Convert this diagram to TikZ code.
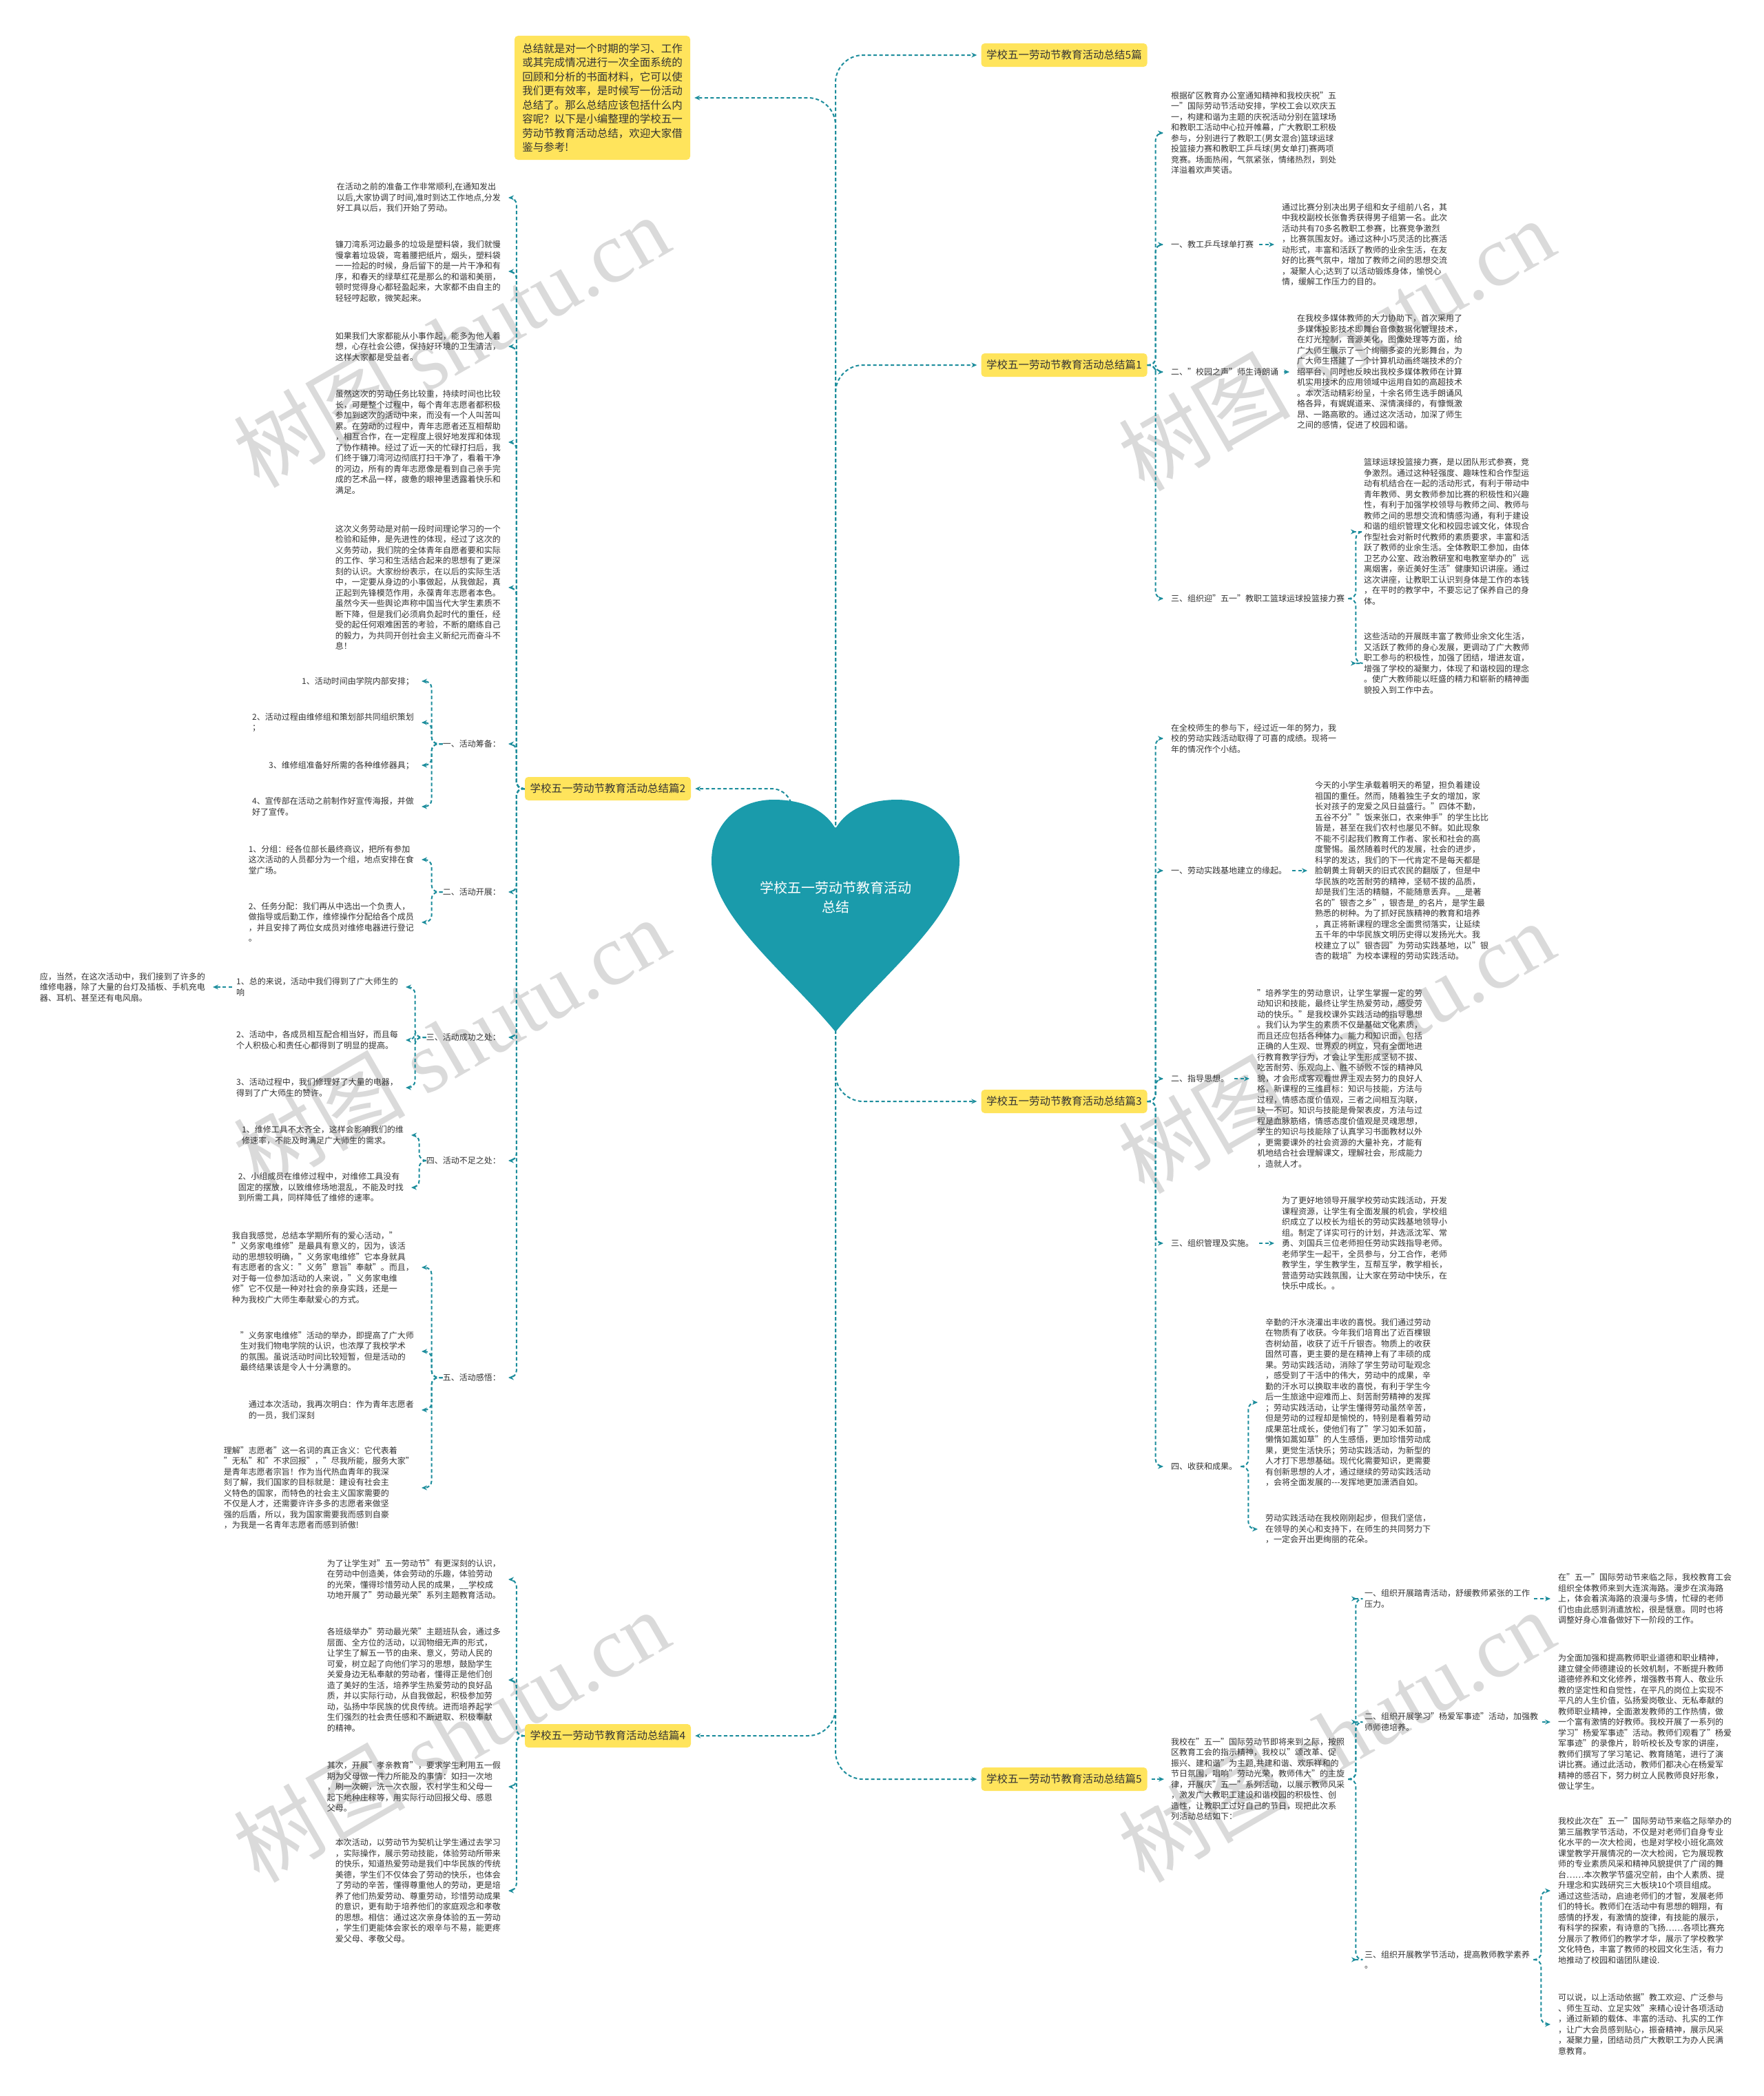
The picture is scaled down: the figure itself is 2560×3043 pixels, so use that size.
\documentclass[tikz,border=0pt]{standalone}
\usepackage{fontspec}
\setmainfont{Noto Sans CJK SC}
\newfontfamily\wmserif{Liberation Serif}
\usetikzlibrary{arrows.meta}
\definecolor{lc}{HTML}{1C8D9C}
\definecolor{hc}{HTML}{1A9BAB}
\definecolor{yc}{HTML}{FFE45C}
\definecolor{tc}{HTML}{333333}
\definecolor{wmc}{HTML}{DADADA}
\begin{document}
\begin{tikzpicture}[x=1pt,y=-1pt,
  txt/.style={font=\fontsize{12}{15.5}\selectfont, text=tc, inner sep=0pt, align=left},
  ybox/.style={fill=yc, rounded corners=5pt, text=tc, font=\fontsize{15.5}{20.5}\selectfont, minimum width=241pt, minimum height=34pt, inner sep=0pt},
  conn/.style={draw=lc, line width=2pt, dash pattern=on 5pt off 3.5pt, rounded corners=10pt, -{Stealth[length=8pt,width=7pt]}, shorten >=11pt},
  wm/.style={text=wmc, font=\fontsize{125}{130}\selectfont, rotate=30, inner sep=0pt},
]
\fill[white] (0,0) rectangle (2560,3043);
\useasboundingbox (0,0) rectangle (2560,3043);

% watermarks
\node[wm] (wm1) at (655,495) {树图 {\wmserif shutu.cn}};
\node[wm] (wm2) at (655,1515) {树图 {\wmserif shutu.cn}};
\node[wm] (wm3) at (655,2520) {树图 {\wmserif shutu.cn}};
\node[wm] (wm4) at (1940,500) {树图 {\wmserif shutu.cn}};
\node[wm] (wm5) at (1940,1520) {树图 {\wmserif shutu.cn}};
\node[wm] (wm6) at (1940,2520) {树图 {\wmserif shutu.cn}};

% ---------- main boxes ----------
\node[ybox, minimum width=255pt, minimum height=180pt, align=left] (intro) at (874.5,142) {总结就是对一个时期的学习、工作\\或其完成情况进行一次全面系统的\\回顾和分析的书面材料，它可以使\\我们更有效率，是时候写一份活动\\总结了。那么总结应该包括什么内\\容呢？以下是小编整理的学校五一\\劳动节教育活动总结，欢迎大家借\\鉴与参考!};
\node[ybox] (b5t) at (1545,80) {学校五一劳动节教育活动总结5篇};
\node[ybox] (b1) at (1545,530) {学校五一劳动节教育活动总结篇1};
\node[ybox] (b2) at (882.5,1145) {学校五一劳动节教育活动总结篇2};
\node[ybox] (b3) at (1545,1599) {学校五一劳动节教育活动总结篇3};
\node[ybox] (b4) at (882.5,2520) {学校五一劳动节教育活动总结篇4};
\node[ybox] (b5) at (1545,2583) {学校五一劳动节教育活动总结篇5};

% ---------- 篇2 ----------
\node[txt, anchor=east] (L2a) at (727,287) {在活动之前的准备工作非常顺利,在通知发出\\以后,大家协调了时间,准时到达工作地点,分发\\好工具以后，我们开始了劳动。};
\node[txt, anchor=east] (L2b) at (727,394) {镰刀湾系河边最多的垃圾是塑料袋，我们就慢\\慢拿着垃圾袋，弯着腰把纸片，烟头，塑料袋\\一一捡起的时候，身后留下的是一片干净和有\\序，和春天的绿草红花是那么的和谐和美丽，\\顿时觉得身心都轻盈起来，大家都不由自主的\\轻轻哼起歌，微笑起来。};
\node[txt, anchor=east] (L2c) at (727,503) {如果我们大家都能从小事作起，能多为他人着\\想，心存社会公德，保持好环境的卫生清洁，\\这样大家都是受益者。};
\node[txt, anchor=east] (L2d) at (727,642) {虽然这次的劳动任务比较重，持续时间也比较\\长，可是整个过程中，每个青年志愿者都积极\\参加到这次的活动中来，而没有一个人叫苦叫\\累。在劳动的过程中，青年志愿者还互相帮助\\，相互合作，在一定程度上很好地发挥和体现\\了协作精神。经过了近一天的忙碌打扫后，我\\们终于镰刀湾河边彻底打扫干净了，看着干净\\的河边，所有的青年志愿像是看到自己亲手完\\成的艺术品一样，疲惫的眼神里透露着快乐和\\满足。};
\node[txt, anchor=east] (L2e) at (727,853) {这次义务劳动是对前一段时间理论学习的一个\\检验和延伸，是先进性的体现，经过了这次的\\义务劳动，我们院的全体青年自愿者要和实际\\的工作、学习和生活结合起来的思想有了更深\\刻的认识。大家纷纷表示，在以后的实际生活\\中，一定要从身边的小事做起，从我做起，真\\正起到先锋模范作用，永葆青年志愿者本色。\\虽然今天一些舆论声称中国当代大学生素质不\\断下降，但是我们必须肩负起时代的重任，经\\受的起任何艰难困苦的考验，不断的磨练自己\\的毅力，为共同开创社会主义新纪元而奋斗不\\息！};
\node[txt, anchor=east] (L2f) at (727,1080) {一、活动筹备：};
\node[txt, anchor=east] (L2f1) at (601,989) {1、活动时间由学院内部安排；};
\node[txt, anchor=east] (L2f2) at (601,1049) {2、活动过程由维修组和策划部共同组织策划\\；};
\node[txt, anchor=east] (L2f3) at (601,1111) {3、维修组准备好所需的各种维修器具；};
\node[txt, anchor=east] (L2f4) at (601,1171) {4、宣传部在活动之前制作好宣传海报，并做\\好了宣传。};
\node[txt, anchor=east] (L2g) at (727,1295) {二、活动开展：};
\node[txt, anchor=east] (L2g1) at (601,1248) {1、分组：经各位部长最终商议，把所有参加\\这次活动的人员都分为一个组，地点安排在食\\堂广场。};
\node[txt, anchor=east] (L2g2) at (601,1339) {2、任务分配：我们再从中选出一个负责人，\\做指导或后勤工作，维修操作分配给各个成员\\，并且安排了两位女成员对维修电器进行登记\\。};
\node[txt, anchor=east] (L2h) at (727,1506) {三、活动成功之处：};
\node[txt, anchor=east] (L2h1) at (578,1433) {1、总的来说，活动中我们得到了广大师生的\\响};
\node[txt, anchor=east] (L2h1a) at (298,1433) {应，当然，在这次活动中，我们接到了许多的\\维修电器，除了大量的台灯及插板、手机充电\\器、耳机、甚至还有电风扇。};
\node[txt, anchor=east] (L2h2) at (578,1510) {2、活动中，各成员相互配合相当好，而且每\\个人积极心和责任心都得到了明显的提高。};
\node[txt, anchor=east] (L2h3) at (578,1579) {3、活动过程中，我们修理好了大量的电器，\\得到了广大师生的赞许。};
\node[txt, anchor=east] (L2i) at (727,1685) {四、活动不足之处：};
\node[txt, anchor=east] (L2i1) at (586,1648) {1、维修工具不太齐全，这样会影响我们的维\\修速率，不能及时满足广大师生的需求。};
\node[txt, anchor=east] (L2i2) at (586,1724) {2、小组成员在维修过程中，对维修工具没有\\固定的摆放，以致维修场地混乱，不能及时找\\到所需工具，同样降低了维修的速率。};
\node[txt, anchor=east] (L2j) at (727,2000) {五、活动感悟：};
\node[txt, anchor=east] (L2j1) at (601,1840) {我自我感觉，总结本学期所有的爱心活动，"\\"义务家电维修"是最具有意义的，因为，该活\\动的思想较明确，"义务家电维修"它本身就具\\有志愿者的含义："义务"意旨"奉献"。而且，\\对于每一位参加活动的人来说，"义务家电维\\修"它不仅是一种对社会的亲身实践，还是一\\种为我校广大师生奉献爱心的方式。};
\node[txt, anchor=east] (L2j2) at (601,1962) {"义务家电维修"活动的举办，即提高了广大师\\生对我们物电学院的认识，也浓厚了我校学术\\的氛围。虽说活动时间比较短暂，但是活动的\\最终结果该是令人十分满意的。};
\node[txt, anchor=east] (L2j3) at (601,2047) {通过本次活动，我再次明白：作为青年志愿者\\的一员，我们深刻};
\node[txt, anchor=east] (L2j4) at (601,2160) {理解"志愿者"这一名词的真正含义：它代表着\\"无私"和"不求回报"，"尽我所能，服务大家"\\是青年志愿者宗旨！作为当代热血青年的我深\\刻了解，我们国家的目标就是：建设有社会主\\义特色的国家，而特色的社会主义国家需要的\\不仅是人才，还需要许许多多的志愿者来做坚\\强的后盾，所以，我为国家需要我而感到自豪\\，为我是一名青年志愿者而感到骄傲!};

% ---------- 篇4 ----------
\node[txt, anchor=east] (L4a) at (727,2293) {为了让学生对"五一劳动节"有更深刻的认识，\\在劳动中创造美，体会劳动的乐趣，体验劳动\\的光荣，懂得珍惜劳动人民的成果，\_\_学校成\\功地开展了"劳动最光荣"系列主题教育活动。};
\node[txt, anchor=east] (L4b) at (727,2439) {各班级举办"劳动最光荣"主题班队会，通过多\\层面、全方位的活动，以润物细无声的形式，\\让学生了解五一节的由来、意义，劳动人民的\\可爱，树立起了向他们学习的思想，鼓励学生\\关爱身边无私奉献的劳动者，懂得正是他们创\\造了美好的生活，培养学生热爱劳动的良好品\\质，并以实际行动，从自我做起，积极参加劳\\动，弘扬中华民族的优良传统。进而培养起学\\生们强烈的社会责任感和不断进取、积极奉献\\的精神。};
\node[txt, anchor=east] (L4c) at (727,2594) {其次，开展"孝亲教育"，要求学生利用五一假\\期为父母做一件力所能及的事情：如扫一次地\\，刷一次碗，洗一次衣服，农村学生和父母一\\起下地种庄稼等，用实际行动回报父母、感恩\\父母。};
\node[txt, anchor=east] (L4d) at (727,2745) {本次活动，以劳动节为契机让学生通过去学习\\，实际操作，展示劳动技能，体验劳动所带来\\的快乐，知道热爱劳动是我们中华民族的传统\\美德，学生们不仅体会了劳动的快乐，也体会\\了劳动的辛苦，懂得尊重他人的劳动，更是培\\养了他们热爱劳动、尊重劳动，珍惜劳动成果\\的意识，更有助于培养他们的家庭观念和孝敬\\的思想。相信：通过这次亲身体验的五一劳动\\，学生们更能体会家长的艰辛与不易，能更疼\\爱父母、孝敬父母。};

% ---------- 篇1 ----------
\node[txt, anchor=west] (R1a) at (1700,193) {根据矿区教育办公室通知精神和我校庆祝"五\\一"国际劳动节活动安排，学校工会以欢庆五\\一，构建和谐为主题的庆祝活动分别在篮球场\\和教职工活动中心拉开帷幕，广大教职工积极\\参与，分别进行了教职工(男女混合)篮球运球\\投篮接力赛和教职工乒乓球(男女单打)赛两项\\竞赛。场面热闹，气氛紧张，情绪热烈，到处\\洋溢着欢声笑语。};
\node[txt, anchor=west] (R1b) at (1700,355) {一、教工乒乓球单打赛};
\node[txt, anchor=west] (R1b1) at (1861,355) {通过比赛分别决出男子组和女子组前八名，其\\中我校副校长张鲁秀获得男子组第一名。此次\\活动共有70多名教职工参赛，比赛竞争激烈\\，比赛氛围友好。通过这种小巧灵活的比赛活\\动形式，丰富和活跃了教师的业余生活，在友\\好的比赛气氛中，增加了教师之间的思想交流\\，凝聚人心;达到了以活动锻炼身体，愉悦心\\情，缓解工作压力的目的。};
\node[txt, anchor=west] (R1c) at (1700,540) {二、"校园之声"师生诗朗诵};
\node[txt, anchor=west] (R1c1) at (1883,540) {在我校多媒体教师的大力协助下，首次采用了\\多媒体投影技术即舞台音像数据化管理技术，\\在灯光控制，音源美化，图像处理等方面，给\\广大师生展示了一个绚丽多姿的光影舞台，为\\广大师生搭建了一个计算机动画终端技术的介\\绍平台，同时也反映出我校多媒体教师在计算\\机实用技术的应用领域中运用自如的高超技术\\。本次活动精彩纷呈，十余名师生选手朗诵风\\格各异，有娓娓道来、深情演绎的，有慷慨激\\昂、一路高歌的。通过这次活动，加深了师生\\之间的感情，促进了校园和谐。};
\node[txt, anchor=west] (R1d) at (1700,869) {三、组织迎"五一"教职工篮球运球投篮接力赛};
\node[txt, anchor=west] (R1d1) at (1980,772) {篮球运球投篮接力赛，是以团队形式参赛，竞\\争激烈。通过这种轻强度、趣味性和合作型运\\动有机结合在一起的活动形式，有利于带动中\\青年教师、男女教师参加比赛的积极性和兴趣\\性，有利于加强学校领导与教师之间、教师与\\教师之间的思想交流和情感沟通，有利于建设\\和谐的组织管理文化和校园忠诚文化，体现合\\作型社会对新时代教师的素质要求，丰富和活\\跃了教师的业余生活。全体教职工参加，由体\\卫艺办公室、政治教研室和电教室举办的"远\\离烟害，亲近美好生活"健康知识讲座。通过\\这次讲座，让教职工认识到身体是工作的本钱\\，在平时的教学中，不要忘记了保养自己的身\\体。};
\node[txt, anchor=west] (R1d2) at (1980,963) {这些活动的开展既丰富了教师业余文化生活，\\又活跃了教师的身心发展，更调动了广大教师\\职工参与的积极性，加强了团结，增进友谊，\\增强了学校的凝聚力，体现了和谐校园的理念\\。使广大教师能以旺盛的精力和崭新的精神面\\貌投入到工作中去。};

% ---------- 篇3 ----------
\node[txt, anchor=west] (R3a) at (1700,1072) {在全校师生的参与下，经过近一年的努力，我\\校的劳动实践活动取得了可喜的成绩。现将一\\年的情况作个小结。};
\node[txt, anchor=west] (R3b) at (1700,1264) {一、劳动实践基地建立的缘起。};
\node[txt, anchor=west] (R3b1) at (1909,1264) {今天的小学生承载着明天的希望，担负着建设\\祖国的重任。然而，随着独生子女的增加，家\\长对孩子的宠爱之风日益盛行。"四体不勤，\\五谷不分""饭来张口，衣来伸手"的学生比比\\皆是，甚至在我们农村也屡见不鲜。如此现象\\不能不引起我们教育工作者、家长和社会的高\\度警惕。虽然随着时代的发展，社会的进步，\\科学的发达，我们的下一代肯定不是每天都是\\脸朝黄土背朝天的旧式农民的翻版了，但是中\\华民族的吃苦耐劳的精神，坚韧不拔的品质，\\却是我们生活的精髓，不能随意丢弃。\_\_是著\\名的"银杏之乡"，银杏是\_的名片，是学生最\\熟悉的树种。为了抓好民族精神的教育和培养\\，真正将新课程的理念全面贯彻落实，让延续\\五千年的中华民族文明历史得以发扬光大。我\\校建立了以"银杏园"为劳动实践基地，以"银\\杏的栽培"为校本课程的劳动实践活动。};
\node[txt, anchor=west] (R3c) at (1700,1566) {二、指导思想。};
\node[txt, anchor=west] (R3c1) at (1825,1566) {"培养学生的劳动意识，让学生掌握一定的劳\\动知识和技能，最终让学生热爱劳动，感受劳\\动的快乐。"是我校课外实践活动的指导思想\\。我们认为学生的素质不仅是基础文化素质，\\而且还应包括各种体力、能力和知识面，包括\\正确的人生观、世界观的树立，只有全面地进\\行教育教学行为，才会让学生形成坚韧不拔、\\吃苦耐劳、乐观向上、胜不骄败不馁的精神风\\貌，才会形成客观看世界主观去努力的良好人\\格。新课程的三维目标：知识与技能，方法与\\过程，情感态度价值观，三者之间相互沟联，\\缺一不可。知识与技能是骨架表皮，方法与过\\程是血脉筋络，情感态度价值观是灵魂思想，\\学生的知识与技能除了认真学习书面教材以外\\，更需要课外的社会资源的大量补充，才能有\\机地结合社会理解课文，理解社会，形成能力\\，造就人才。};
\node[txt, anchor=west] (R3d) at (1700,1805) {三、组织管理及实施。};
\node[txt, anchor=west] (R3d1) at (1861,1805) {为了更好地领导开展学校劳动实践活动，开发\\课程资源，让学生有全面发展的机会，学校组\\织成立了以校长为组长的劳动实践基地领导小\\组。制定了详实可行的计划，并选派沈军、常\\勇、刘国兵三位老师担任劳动实践指导老师。\\老师学生一起干，全员参与，分工合作，老师\\教学生，学生教学生，互帮互学，教学相长，\\营造劳动实践氛围，让大家在劳动中快乐，在\\快乐中成长。。};
\node[txt, anchor=west] (R3e) at (1700,2129) {四、收获和成果。};
\node[txt, anchor=west] (R3e1) at (1837,2036) {辛勤的汗水浇灌出丰收的喜悦。我们通过劳动\\在物质有了收获。今年我们培育出了近百棵银\\杏树幼苗，收获了近千斤银杏。物质上的收获\\固然可喜，更主要的是在精神上有了丰硕的成\\果。劳动实践活动，消除了学生劳动可耻观念\\，感受到了干活中的伟大，劳动中的成果，辛\\勤的汗水可以换取丰收的喜悦，有利于学生今\\后一生旅途中迎难而上、刻苦耐劳精神的发挥\\；劳动实践活动，让学生懂得劳动虽然辛苦，\\但是劳动的过程却是愉悦的，特别是看着劳动\\成果茁壮成长，使他们有了"学习如禾如苗，\\懒惰如蒿如草"的人生感悟，更加珍惜劳动成\\果，更觉生活快乐；劳动实践活动，为新型的\\人才打下思想基础。现代化需要知识，更需要\\有创新思想的人才，通过继续的劳动实践活动\\，会将全面发展的-{}-{}-发挥地更加潇洒自如。};
\node[txt, anchor=west] (R3e2) at (1837,2220) {劳动实践活动在我校刚刚起步，但我们坚信，\\在领导的关心和支持下，在师生的共同努力下\\，一定会开出更绚丽的花朵。};

% ---------- 篇5 ----------
\node[txt, anchor=west] (R5a) at (1700,2583) {我校在"五一"国际劳动节即将来到之际，按照\\区教育工会的指示精神，我校以"颂改革、促\\振兴、建和谐"为主题,共建和谐、欢乐祥和的\\节日氛围，唱响"劳动光荣，教师伟大"的主旋\\律，开展庆"五一"系列活动，以展示教师风采\\，激发广大教职工建设和谐校园的积极性、创\\造性，让教职工过好自己的节日，现把此次系\\列活动总结如下：};
\node[txt, anchor=west] (R5b) at (1981,2321) {一、组织开展踏青活动，舒缓教师紧张的工作\\压力。};
\node[txt, anchor=west] (R5b1) at (2262,2321) {在"五一"国际劳动节来临之际，我校教育工会\\组织全体教师来到大连滨海路。漫步在滨海路\\上，体会着滨海路的浪漫与多情，忙碌的老师\\们也由此感到消遣放松，很是惬意。同时也将\\调整好身心准备做好下一阶段的工作。};
\node[txt, anchor=west] (R5c) at (1981,2500) {二、组织开展学习"杨爱军事迹"活动，加强教\\师师德培养。};
\node[txt, anchor=west] (R5c1) at (2262,2500) {为全面加强和提高教师职业道德和职业精神，\\建立健全师德建设的长效机制，不断提升教师\\道德修养和文化修养，增强教书育人、敬业乐\\教的坚定性和自觉性，在平凡的岗位上实现不\\平凡的人生价值，弘扬爱岗敬业、无私奉献的\\教师职业精神，全面激发教师的工作热情，做\\一个富有激情的好教师。我校开展了一系列的\\学习"杨爱军事迹"活动。教师们观看了"杨爱\\军事迹"的录像片，聆听校长及专家的讲座，\\教师们撰写了学习笔记、教育随笔，进行了演\\讲比赛。通过此活动，教师们都决心在杨爱军\\精神的感召下，努力树立人民教师良好形象，\\做让学生。};
\node[txt, anchor=west] (R5d) at (1981,2845) {三、组织开展教学节活动，提高教师教学素养\\。};
\node[txt, anchor=west] (R5d1) at (2262,2745) {我校此次在"五一"国际劳动节来临之际举办的\\第三届教学节活动，不仅是对老师们自身专业\\化水平的一次大检阅，也是对学校小班化高效\\课堂教学开展情况的一次大检阅，它为展现教\\师的专业素质风采和精神风貌提供了广阔的舞\\台……本次教学节盛况空前，由个人素质、提\\升理念和实践研究三大板块10个项目组成。\\通过这些活动，启迪老师们的才智，发展老师\\们的特长。教师们在活动中有思想的翱翔，有\\感情的抒发，有激情的旋律，有技能的展示，\\有科学的探索，有诗意的飞扬……各项比赛充\\分展示了教师们的教学才华，展示了学校教学\\文化特色，丰富了教师的校园文化生活，有力\\地推动了校园和谐团队建设.};
\node[txt, anchor=west] (R5d2) at (2262,2939) {可以说，以上活动依据"教工欢迎、广泛参与\\、师生互动、立足实效"来精心设计各项活动\\，通过新颖的载体、丰富的活动、扎实的工作\\，让广大会员感到贴心，振奋精神，展示风采\\，凝聚力量，团结动员广大教职工为办人民满\\意教育。};

% ---------- connectors ----------
% 篇2
\foreach \c in {L2a,L2b,L2c,L2d,L2e,L2f,L2g,L2h,L2i,L2j}
  \draw[conn] (b2.west) -- ++(-12,0) |- (\c.east);
\foreach \c in {L2f1,L2f2,L2f3,L2f4}
  \draw[conn] (L2f.west) -- ++(-16,0) |- (\c.east);
\foreach \c in {L2g1,L2g2}
  \draw[conn] (L2g.west) -- ++(-16,0) |- (\c.east);
\foreach \c in {L2h1,L2h2,L2h3}
  \draw[conn] (L2h.west) -- ++(-16,0) |- (\c.east);
\foreach \c in {L2i1,L2i2}
  \draw[conn] (L2i.west) -- ++(-10,0) |- (\c.east);
\foreach \c in {L2j1,L2j2,L2j3,L2j4}
  \draw[conn] (L2j.west) -- ++(-16,0) |- (\c.east);
\draw[conn, shorten <=6pt] (L2h1.west) -- (L2h1a.east);
% 篇4
\foreach \c in {L4a,L4b,L4c,L4d}
  \draw[conn] (b4.west) -- ++(-12,0) |- (\c.east);
% 篇1
\foreach \c in {R1a,R1b,R1c,R1d}
  \draw[conn] (b1.east) -- ++(12,0) |- (\c.west);
\draw[conn, shorten <=8pt] (R1b.east) -- (R1b1.west);
\draw[conn, shorten <=8pt] (R1c.east) -- (R1c1.west);
\foreach \c in {R1d1,R1d2}
  \draw[conn, shorten <=5pt] (R1d.east) -- ++(16,0) |- (\c.west);
% 篇3
\foreach \c in {R3a,R3b,R3c,R3d,R3e}
  \draw[conn] (b3.east) -- ++(12,0) |- (\c.west);
\draw[conn, shorten <=8pt] (R3b.east) -- (R3b1.west);
\draw[conn, shorten <=8pt] (R3c.east) -- (R3c1.west);
\draw[conn, shorten <=8pt] (R3d.east) -- (R3d1.west);
\foreach \c in {R3e1,R3e2}
  \draw[conn, shorten <=5pt] (R3e.east) -- ++(16,0) |- (\c.west);
% 篇5
\draw[conn, shorten <=6pt, shorten >=10pt] (b5.east) -- (R5a.west);
\foreach \c in {R5b,R5c,R5d}
  \draw[conn, shorten <=5pt] (R5a.east) -- ++(16,0) |- (\c.west);
\draw[conn, shorten <=6pt] (R5b.east) -- (R5b1.west);
\draw[conn, shorten <=6pt] (R5c.east) -- (R5c1.west);
\foreach \c in {R5d1,R5d2}
  \draw[conn, shorten <=5pt] (R5d.east) -- ++(16,0) |- (\c.west);

% heart connectors
\coordinate (hc) at (1213,1300);
\coordinate (hl) at (1150,1250);
\draw[conn, rounded corners=40pt, shorten >=6pt] (hc) |- (intro.east);
\draw[conn, rounded corners=40pt, shorten >=6pt] (hc) |- (b5t.west);
\draw[conn, rounded corners=40pt, shorten >=6pt] (hc) |- (b1.west);
\draw[conn, rounded corners=30pt, shorten >=6pt] (hl) |- (b2.east);
\draw[conn, rounded corners=40pt, shorten >=6pt] (hc) |- (b3.west);
\draw[conn, rounded corners=40pt, shorten >=6pt] (hc) |- (b4.east);
\draw[conn, rounded corners=40pt, shorten >=6pt] (hc) |- (b5.west);

% heart
\fill[hc] (1213,1203) .. controls (1195,1172) and (1160,1161) .. (1123,1161)
  .. controls (1068,1161) and (1033,1200) .. (1033,1250)
  .. controls (1033,1330) and (1140,1410) .. (1213,1498)
  .. controls (1286,1410) and (1393,1330) .. (1393,1250)
  .. controls (1393,1200) and (1358,1161) .. (1303,1161)
  .. controls (1266,1161) and (1231,1172) .. (1213,1203) -- cycle;
\node[font=\fontsize{20}{28}\selectfont, text=white, align=center, inner sep=0pt] (heart) at (1213,1303) {学校五一劳动节教育活动\\总结};
\end{tikzpicture}
\end{document}
